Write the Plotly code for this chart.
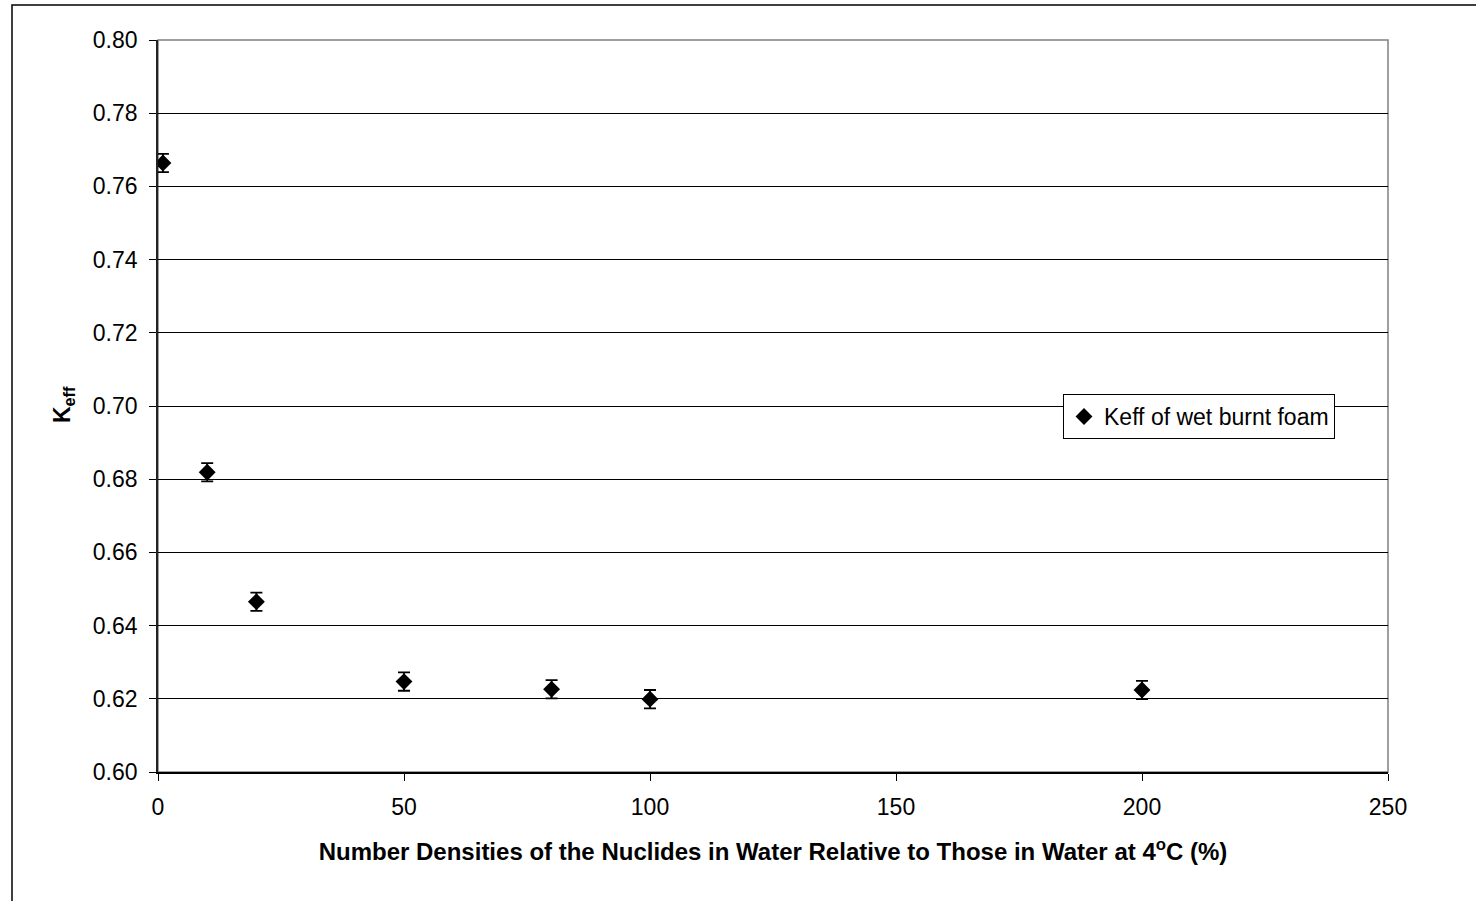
import plotly.graph_objects as go

# Data
x_vals = [1, 10, 20, 50, 80, 100, 200]
keff = [0.7664, 0.6819, 0.6465, 0.6247, 0.6226, 0.6199, 0.6224]
err = [0.0025, 0.0025, 0.0025, 0.0025, 0.0025, 0.0025, 0.0025]
series_name = "Keff of wet burnt foam"
x_ticks = [0, 50, 100, 150, 200, 250]
y_ticks = [0.60, 0.62, 0.64, 0.66, 0.68, 0.70, 0.72, 0.74, 0.76, 0.78, 0.80]

FONT = "Liberation Sans, Arial, sans-serif"

fig = go.Figure()
fig.add_trace(go.Scatter(
    x=x_vals, y=keff, mode="markers", name=series_name,
    marker=dict(symbol="diamond", size=13, color="black"),
    error_y=dict(type="data", array=err, visible=True, color="black",
                 thickness=1.8, width=6),
))

L, R, T, B = 158, 88, 40, 129
W, H = 1476, 901
pw, ph = W - L - R, H - T - B

fig.update_layout(
    width=W, height=H,
    margin=dict(l=L, r=R, t=T, b=B),
    paper_bgcolor="white", plot_bgcolor="white",
    font=dict(family=FONT, color="black", size=23),
    showlegend=True,
    legend=dict(x=(1063 - L) / pw, y=(772 - 394) / ph, xanchor="left", yanchor="top",
                bgcolor="white", bordercolor="black", borderwidth=1,
                font=dict(size=23, family=FONT), itemwidth=30,
                tracegroupgap=0),
    xaxis=dict(range=[0, 250], tickvals=x_ticks, ticktext=[str(v) for v in x_ticks],
               showgrid=False, zeroline=False, showline=True, linecolor="black", linewidth=1.5,
               ticks="outside", ticklen=7, tickcolor="black", tickwidth=1,
               ticklabelstandoff=7,
               tickfont=dict(size=23, family=FONT),
               title=dict(text="<b>Number Densities of the Nuclides in Water Relative to Those in Water at 4<sup>o</sup>C (%)</b>",
                          font=dict(size=24, family=FONT), standoff=24)),
    yaxis=dict(range=[0.60, 0.80], tickvals=y_ticks, ticktext=[f"{v:.2f}" for v in y_ticks],
               showgrid=True, gridcolor="black", gridwidth=1, zeroline=False,
               showline=True, linecolor="#222222", linewidth=1.8,
               ticks="outside", ticklen=7, tickcolor="black", tickwidth=1,
               ticklabelstandoff=7,
               tickfont=dict(size=23, family=FONT)),
)

# Plot border (top/right gray)
fig.add_shape(type="rect", xref="paper", yref="paper", x0=0, x1=1, y0=0, y1=1,
              line=dict(color="#808080", width=1.5), layer="below")
# Outer chart frame
fig.add_shape(type="rect", xref="paper", yref="paper",
              x0=(12 - L) / pw, x1=(1480 - L) / pw, y0=(772 - 905) / ph, y1=(772 - 5) / ph,
              line=dict(color="black", width=1.5))

fig.add_annotation(text="<b>K<sub>eff</sub></b>", xref="paper", yref="paper",
                   x=(63 - L) / pw, y=(772 - 405) / ph, showarrow=False, textangle=-90,
                   font=dict(size=23, family=FONT), xanchor="center", yanchor="middle")

fig.write_html("out.html")
